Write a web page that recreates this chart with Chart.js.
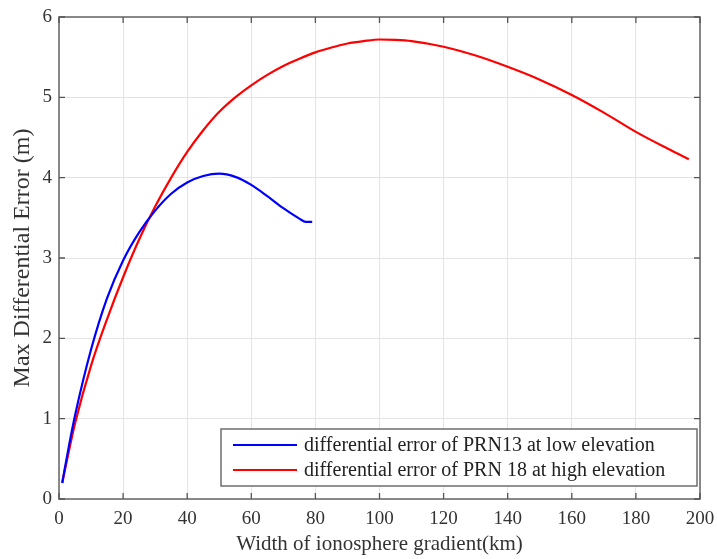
<!DOCTYPE html>
<html>
<head>
<meta charset="utf-8">
<script src="https://cdn.jsdelivr.net/npm/chart.js@4/dist/chart.umd.min.js"></script>
<style>
  html, body { margin: 0; padding: 0; background: #fff; }
  #wrap { width: 717px; height: 559px; }
</style>
</head>
<body>
<div id="wrap"><canvas id="errChart" width="717" height="559"></canvas></div>
<script>
// gradient width (km) and max differential error (m) for each satellite
const prn13Width = [1, 3, 5, 10, 15, 20, 25, 30, 35, 40, 45, 50, 55, 60, 65, 70, 75, 77, 79];
const prn13Error = [0.2, 0.64, 1.04, 1.86, 2.5, 2.97, 3.32, 3.59, 3.8, 3.94, 4.02, 4.05, 4.01, 3.91, 3.77, 3.62, 3.49, 3.45, 3.45];

const prn18Width = [1, 3, 5, 10, 15, 20, 25, 30, 35, 40, 45, 50, 55, 60, 65, 70, 75, 80, 85, 90, 95, 100, 105, 110, 120, 130, 140, 150, 160, 170, 180, 190, 196.5];
const prn18Error = [0.2, 0.58, 0.94, 1.66, 2.24, 2.76, 3.23, 3.64, 4.0, 4.32, 4.59, 4.82, 5.0, 5.15, 5.28, 5.39, 5.48, 5.56, 5.62, 5.67, 5.7, 5.72, 5.715, 5.7, 5.63, 5.52, 5.38, 5.22, 5.03, 4.81, 4.57, 4.36, 4.23];

const xTicks = [0, 20, 40, 60, 80, 100, 120, 140, 160, 180, 200];
const yTicks = [0, 1, 2, 3, 4, 5, 6];

const seriesLabels = [
  "differential error of PRN13 at low elevation",
  "differential error of PRN 18 at high elevation"
];

const serif = "'Liberation Serif', 'Times New Roman', serif";

function toPoints(xs, ys) {
  return xs.map((x, i) => ({ x: x, y: ys[i] }));
}

// box around the plot with inward tick marks on all four sides
const frameBox = {
  id: "frameBox",
  afterDatasetsDraw(chart) {
    const { ctx, chartArea: a, scales } = chart;
    ctx.save();
    ctx.strokeStyle = "#6e6e6e";
    ctx.lineWidth = 1.6;
    ctx.strokeRect(a.left, a.top, a.right - a.left, a.bottom - a.top);
    ctx.lineWidth = 1.3;
    ctx.strokeStyle = "#555";
    const len = 6;
    ctx.beginPath();
    xTicks.forEach(v => {
      const px = scales.x.getPixelForValue(v);
      ctx.moveTo(px, a.bottom); ctx.lineTo(px, a.bottom - len);
      ctx.moveTo(px, a.top); ctx.lineTo(px, a.top + len);
    });
    yTicks.forEach(v => {
      const py = scales.y.getPixelForValue(v);
      ctx.moveTo(a.left, py); ctx.lineTo(a.left + len, py);
      ctx.moveTo(a.right, py); ctx.lineTo(a.right - len, py);
    });
    ctx.stroke();
    ctx.restore();
  }
};

// legend box in the lower right of the plot
const boxLegend = {
  id: "boxLegend",
  afterDraw(chart) {
    const { ctx, chartArea: a } = chart;
    const left = 221, right = a.right - 3, top = 429, bottom = 486;
    ctx.save();
    ctx.fillStyle = "#fff";
    ctx.fillRect(left, top, right - left, bottom - top);
    ctx.strokeStyle = "#6e6e6e";
    ctx.lineWidth = 1.5;
    ctx.strokeRect(left, top, right - left, bottom - top);
    ctx.font = "20px " + serif;
    ctx.textBaseline = "middle";
    chart.data.datasets.forEach((ds, i) => {
      const y = 445 + i * 25;
      ctx.strokeStyle = ds.borderColor;
      ctx.lineWidth = 2.2;
      ctx.beginPath();
      ctx.moveTo(233, y);
      ctx.lineTo(297, y);
      ctx.stroke();
      ctx.fillStyle = "#222";
      ctx.fillText(ds.label, 304, y + 1);
    });
    ctx.restore();
  }
};

const errChart = new Chart(document.getElementById("errChart"), {
  type: "line",
  data: {
    datasets: [
      {
        label: seriesLabels[0],
        data: toPoints(prn13Width, prn13Error),
        borderColor: "#0000ff",
        borderWidth: 2.2,
        pointRadius: 0,
        cubicInterpolationMode: "monotone",
        fill: false
      },
      {
        label: seriesLabels[1],
        data: toPoints(prn18Width, prn18Error),
        borderColor: "#ff0000",
        borderWidth: 2.2,
        pointRadius: 0,
        cubicInterpolationMode: "monotone",
        fill: false
      }
    ]
  },
  options: {
    responsive: false,
    animation: false,
    layout: { padding: { top: 17, right: 17, left: 0, bottom: 0 } },
    plugins: {
      legend: { display: false },
      tooltip: { enabled: false }
    },
    scales: {
      x: {
        type: "linear",
        min: 0,
        max: 200,
        afterBuildTicks(scale) { scale.ticks = xTicks.map(v => ({ value: v })); },
        afterFit(scale) {
          scale.height = 60;
          scale.paddingLeft = 0;
          scale.paddingRight = 0;
        },
        ticks: {
          padding: 9,
          color: "#333",
          font: { family: serif, size: 19 },
          maxRotation: 0
        },
        grid: { color: "#e4e4e4", lineWidth: 1, drawTicks: false },
        border: { display: false },
        title: {
          display: true,
          text: "Width of ionosphere gradient(km)",
          color: "#333",
          font: { family: serif, size: 21 },
          padding: { top: 0, bottom: 2 }
        }
      },
      y: {
        type: "linear",
        min: 0,
        max: 6,
        afterBuildTicks(scale) { scale.ticks = yTicks.map(v => ({ value: v })); },
        afterFit(scale) {
          scale.width = 59;
          scale.paddingTop = 0;
          scale.paddingBottom = 0;
        },
        ticks: {
          padding: 7,
          color: "#333",
          font: { family: serif, size: 19 }
        },
        grid: { color: "#e4e4e4", lineWidth: 1, drawTicks: false },
        border: { display: false },
        title: {
          display: true,
          text: "Max Differential Error (m)",
          color: "#333",
          font: { family: serif, size: 24 },
          padding: { top: 8, bottom: 0 }
        }
      }
    }
  },
  plugins: [frameBox, boxLegend]
});
</script>
</body>
</html>
